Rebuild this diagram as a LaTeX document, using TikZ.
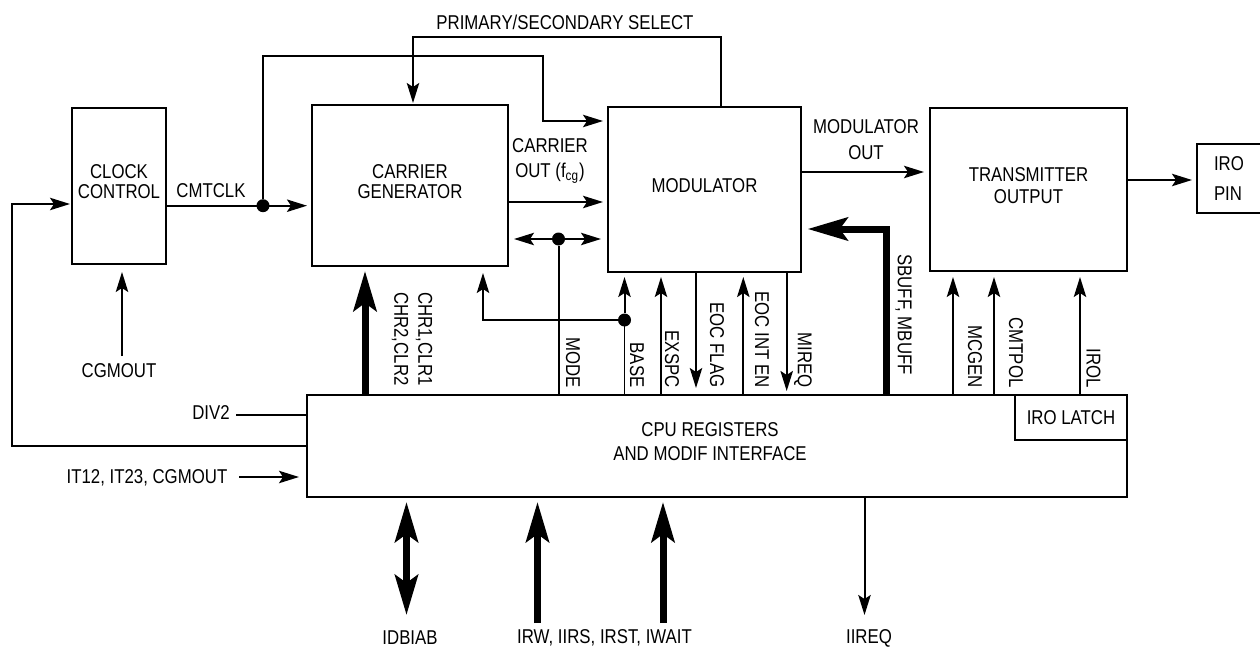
\documentclass[tikz,border=0pt]{standalone}
\usepackage{fontspec}
\setmainfont{Liberation Sans}[FakeStretch=0.84]
\usetikzlibrary{arrows.meta}
\begin{document}
\begin{tikzpicture}[x=0.5pt,y=-0.5pt,
  every node/.style={font=\fontsize{10}{10}\selectfont, inner sep=0pt},
  blk/.style={draw, line width=1pt, align=center},
  raised/.style={text depth=4pt},
  lbl/.style={align=center},
  vlbl/.style={rotate=-90, anchor=east},
  wire/.style={line width=1pt},
  arr/.style={line width=1pt, -{Stealth[length=10pt,width=6.2pt,inset=2pt]}},
  darr/.style={line width=1pt, {Stealth[length=10pt,width=6.2pt,inset=2pt]}-{Stealth[length=10pt,width=6.2pt,inset=2pt]}},
  bus/.style={line width=3.5pt, -{Stealth[length=20pt,width=11.5pt,inset=4pt]}},
  dbus/.style={line width=3.5pt, {Stealth[length=20pt,width=11.5pt,inset=4pt]}-{Stealth[length=20pt,width=11.5pt,inset=4pt]}},
  jdot/.style={circle, fill, minimum size=6.5pt, inner sep=0pt}
]
\useasboundingbox (0,0) rectangle (1260,648);
\clip (0,0) rectangle (1260,648);

% blocks
\node[blk, raised, minimum width=47pt, minimum height=78pt] (clock) at (119,186) {CLOCK\\CONTROL};
\node[blk, raised, minimum width=98pt, minimum height=80.25pt] (cg) at (410,185.25) {CARRIER\\GENERATOR};
\node[blk, raised, minimum width=96.5pt, minimum height=82.5pt] (mod) at (704.5,189.5) {MODULATOR};
\node[blk, raised, minimum width=98.5pt, minimum height=81.25pt] (tx) at (1028.5,189.25) {TRANSMITTER\\[1pt]OUTPUT};
\node[blk, anchor=west, align=left, text width=28pt, inner xsep=8.5pt, minimum height=34.5pt] (pin) at (1196,178.5) {IRO\\[5pt]PIN};
\node[blk, minimum width=410.25pt, minimum height=51pt] (cpu) at (716.75,446) {};
\node[lbl] (cpulbl) at (710,442) {CPU REGISTERS\\[2pt]AND MODIF INTERFACE};
\node[blk, minimum width=56pt, minimum height=22.5pt] (latch) at (1071,417.5) {IRO LATCH};

% feedback to clock control
\coordinate (fbl) at (12,204);
\coordinate (fbt) at (70,204);
\draw[arr] (cpu.west) -| (fbl) -- (fbt);

% CGMOUT into clock control
\node (cgm) at (119,371) {CGMOUT};
\draw[arr] (122,356) -- (122,272);

% CMTCLK
\node (cmtclk) at (211,191) {CMTCLK};
\node[jdot] (j1) at (263,205.7) {};
\draw[arr] (166,205.7) -- (307,205.7);
\draw[arr] (j1) -- (263,56) -| (543,121) -- (603,121);

% primary / secondary select
\node (ps) at (565,22) {PRIMARY/SECONDARY SELECT};
\draw[arr] (720.7,107) -- (720.7,36.7) -| (413,103);

% carrier out
\node[lbl] (cout) at (550,161) {CARRIER\\[2.5pt]OUT (f\textsubscript{cg})};
\draw[arr] (508,202) -- (603,202);

% double arrow and MODE
\draw[darr] (514,239) -- (601,239);
\node[jdot] (j2) at (558.5,239) {};
\draw[wire] (j2) -- (558.5,395);
\node[vlbl] (lmode) at (573,388) {MODE};

% BASE
\draw[line width=0.6pt] (624.5,395) -- (624.5,320);
\node[jdot] (j3) at (624.5,320) {};
\draw[arr] (j3) -- (624.5,277);
\draw[arr] (j3) -- (483,320) -- (483,273);
\node[vlbl] (lbase) at (637,388) {BASE};

% EXSPC
\draw[arr] (661,395) -- (661,277);
\node[vlbl] (lexspc) at (672,388) {EXSPC};

% EOC FLAG
\draw[arr] (696,272) -- (696,388);
\node[vlbl] (leocf) at (717,388) {EOC FLAG};

% EOC INT EN
\draw[arr] (743.3,395) -- (743.3,277);
\node[vlbl] (leoci) at (762,388) {EOC INT EN};

% MIREQ
\draw[arr] (786.7,272) -- (786.7,391);
\node[vlbl] (lmireq) at (803,388) {MIREQ};

% SBUFF, MBUFF
\draw[bus] (886.7,395) -- (886.7,229) -- (807.7,229);
\node[rotate=-90, anchor=west] (lsbuff) at (903.5,254) {SBUFF, MBUFF};

% MCGEN, CMTPOL, IROL
\draw[arr] (953,395) -- (953,277);
\node[vlbl] (lmcgen) at (975,388) {MCGEN};
\draw[arr] (994,395) -- (994,277);
\node[vlbl] (lcmtpol) at (1016,388) {CMTPOL};
\draw[arr] (1080,395) -- (1080,277);
\node[vlbl] (lirol) at (1093.5,388) {IROL};

% modulator -> transmitter
\node[lbl] (mout) at (866,140) {MODULATOR\\[3pt]OUT};
\draw[arr] (801,172) -- (924,172);

% transmitter -> IRO pin
\draw[arr] (1127,180) -- (1192,180);

% CHR / CLR bus
\draw[bus] (365,395) -- (365,271);
\node[rotate=-90, anchor=east, align=center] (lchr) at (412,386) {CHR1,CLR1\\[2pt]CHR2,CLR2};

% DIV2
\node (div2) at (211,413) {DIV2};
\draw[wire] (236,415) -- (306.5,415);

% IT12, IT23, CGMOUT
\node (it) at (147,478) {IT12, IT23, CGMOUT};
\draw[arr] (239,477) -- (299,477);

% bottom buses
\draw[dbus] (406.5,502) -- (406.5,615);
\draw[bus] (537.5,623) -- (537.5,502);
\draw[bus] (663,623) -- (663,502);
\draw[arr] (864.5,497) -- (864.5,615);
\node (lidb) at (410,638) {IDBIAB};
\node (lirw) at (604.5,638) {IRW, IIRS, IRST, IWAIT};
\node (liireq) at (869,638) {IIREQ};
\end{tikzpicture}
\end{document}
